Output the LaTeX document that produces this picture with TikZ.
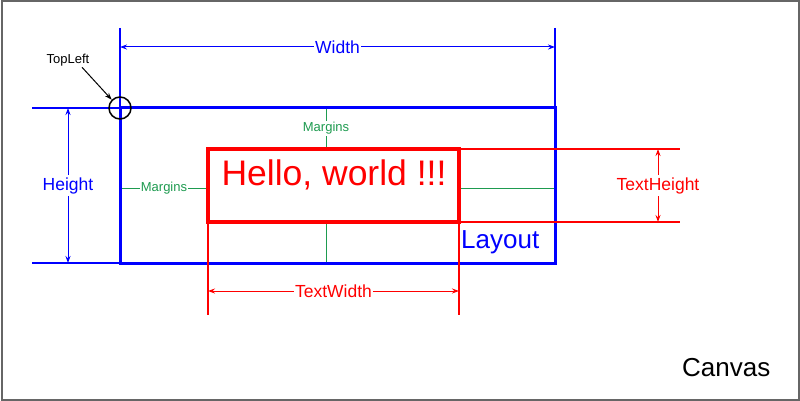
\documentclass[tikz,border=0pt]{standalone}
\usepackage{fontspec}
\setmainfont{Liberation Sans}
\usetikzlibrary{arrows.meta, calc}
\definecolor{margingreen}{RGB}{30,155,80}

\begin{document}
\begin{tikzpicture}[x=1pt,y=-1pt,
  dim/.style={line width=1pt,{Stealth[length=7pt,width=5pt]}-{Stealth[length=7pt,width=5pt]}},
  lbl/.style={fill=white,inner sep=1pt,font=\fontsize{17.5}{18}\selectfont},
  small/.style={fill=white,inner sep=1pt,font=\fontsize{13}{14}\selectfont}]
  \useasboundingbox (0,0) rectangle (800,401);
  \draw[black!60,line width=2pt] (1.5,1.5) rectangle (798.5,399.5);
  \path (120,108) coordinate (tl) (555,108) coordinate (tr) (120,263) coordinate (bl) (555,263) coordinate (br)
  (208,149) coordinate (ttl) (459,149) coordinate (ttr) (208,222) coordinate (tbl) (459,222) coordinate (tbr);
  \path (120,28) coordinate (wl) (555,28) coordinate (wr) (32,108) coordinate (ht) (32,263) coordinate (hb)
  (680,149) coordinate (tht) (680,222) coordinate (thb) (208,315) coordinate (twl) (459,315) coordinate (twr);
  \path (120,47) coordinate (wa) (555,47) coordinate (wb) (68,108) coordinate (ha) (68,263) coordinate (hc)
  (658,149) coordinate (tha) (658,222) coordinate (thc) (208,291) coordinate (twa) (459,291) coordinate (twb);
  \path (120,188) coordinate (m1) (208,188) coordinate (m2) (459,188) coordinate (m3) (555,188) coordinate (m4)
  (326,108) coordinate (m5) (326,149) coordinate (m6) (326,222) coordinate (m7) (326,263) coordinate (m8);
  \draw[margingreen,line width=1pt] (m1) -- node[small] (mleft) {Margins} (m2) (m3) -- (m4)
  (m5) -- node[small] (mtop) {Margins} (m6) (m7) -- (m8);
  \draw[blue,line width=2pt] (wl) -- (tl) (wr) -- (tr) (ht) -- (tl) (hb) -- (bl);
  \draw[blue,line width=3pt] (tl) rectangle (br);
  \draw[blue,dim] (wa) -- node[lbl] (width) {Width} (wb);
  \draw[blue,dim] (ha) -- node[lbl,inner sep=2pt] (height) {Height} (hc);
  \draw[red,line width=1.8pt] (ttr) -- (tht) (tbr) -- (thb) (tbl) -- (twl) (tbr) -- (twr);
  \draw[red,line width=3.5pt,fill=white] (ttl) rectangle (tbr);
  \draw[red,dim] (tha) -- node[lbl,inner sep=2pt] (textheight) {TextHeight} (thc);
  \draw[red,dim] (twa) -- node[lbl] (textwidth) {TextWidth} (twb);
  \node[red,anchor=base,inner sep=0pt,font=\fontsize{35.5}{36}\selectfont] (hello) at (334,185) {Hello, world !!!};
  \node[blue,anchor=base west,inner sep=0pt,font=\fontsize{26}{27}\selectfont] (layout) at (461,248) {Layout};
  \node[anchor=base west,inner sep=0pt,font=\fontsize{26}{27}\selectfont] (canvas) at (682,376) {Canvas};
  \node[draw,circle,line width=1.5pt,minimum size=22pt,inner sep=0pt] (ring) at (tl) {};
  \node[inner sep=1pt,font=\fontsize{13}{14}\selectfont] (topleft) at (68,60) {TopLeft};
  \draw[line width=1pt,-{Stealth[length=7pt,width=5pt]}] ($(topleft.south)+(14,0)$) -- (ring.north west);
\end{tikzpicture}
\end{document}
